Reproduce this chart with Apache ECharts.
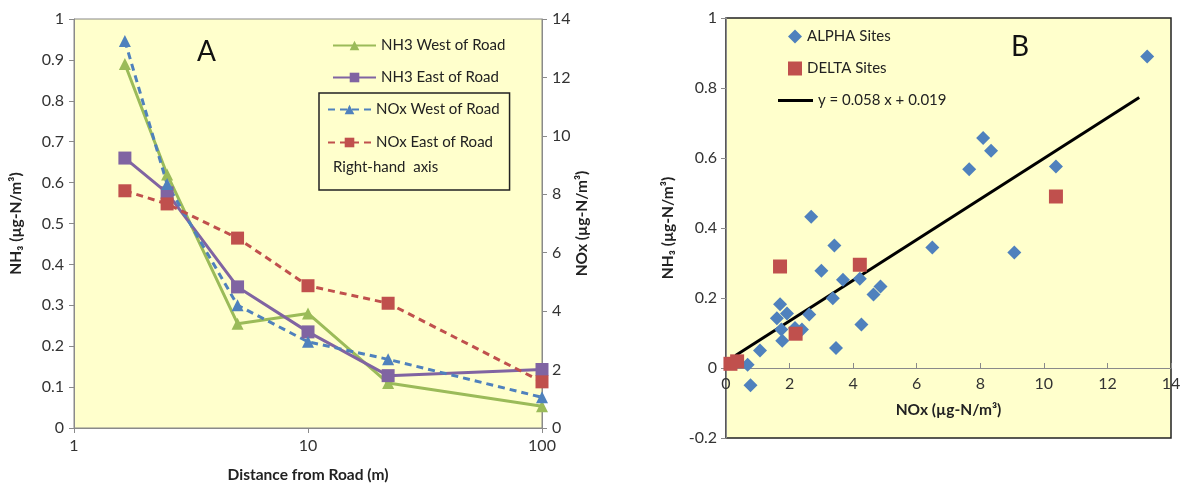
<!DOCTYPE html>
<html>
<head>
<meta charset="utf-8">
<script src="https://cdn.jsdelivr.net/npm/echarts@6/dist/echarts.min.js"></script>
<style>
  html, body { margin: 0; padding: 0; background: #fff; }
  #chart { width: 1186px; height: 484px; }
</style>
</head>
<body>
<div id="chart"></div>
<script>
// panel A: distance from road (m)
const distances = [1.65, 2.5, 5, 10, 22, 100];
const nh3West = [0.89, 0.62, 0.255, 0.28, 0.11, 0.053];
const nh3East = [0.66, 0.575, 0.345, 0.235, 0.128, 0.143];
const noxWest = [13.25, 8.35, 4.2, 2.95, 2.35, 1.05];
const noxEast = [8.12, 7.67, 6.5, 4.87, 4.27, 1.58];

// panel B: NOx vs NH3
const alphaNox = [0.68, 0.77, 1.07, 1.6, 1.7, 1.74, 1.77, 1.92, 2.17, 2.39, 2.62, 2.68, 3.0, 3.36, 3.41, 3.46, 3.68, 4.21, 4.26, 4.64, 4.86, 6.49, 7.65, 8.09, 8.34, 9.07, 10.38, 13.25];
const alphaNh3 = [0.009, -0.049, 0.05, 0.142, 0.182, 0.11, 0.078, 0.156, 0.114, 0.11, 0.153, 0.432, 0.278, 0.199, 0.35, 0.057, 0.252, 0.255, 0.124, 0.21, 0.233, 0.344, 0.568, 0.657, 0.621, 0.33, 0.576, 0.89];
const deltaNox = [0.14, 0.35, 1.7, 2.19, 4.21, 10.38];
const deltaNh3 = [0.012, 0.019, 0.29, 0.098, 0.295, 0.49];
const trendNox = [0.3, 13.0];
const trendNh3 = [0.036, 0.773];

const font = 'Lato, "Liberation Sans", sans-serif';
const pair = (xs, ys) => xs.map((x, i) => [x, ys[i]]);

const axisGrey = '#8a8a8a';
const labelStyle = { color: '#333', fontSize: 16, fontFamily: font };
const nameStyle = { color: '#222', fontSize: 15.5, fontWeight: 'bold', fontFamily: font };
const legendText = { fontSize: 15, color: '#222', fontFamily: font };

// panel B plot box: y runs from -0.2 (bottom) to 1 (top), x axis sits on y = 0
const gridB = { top: 18, height: 420 };
const zeroOffset = -gridB.height * 0.2 / 1.2;

const chart = echarts.init(document.getElementById('chart'));

chart.setOption({
  animation: false,
  textStyle: { fontFamily: font },
  grid: [
    { left: 74, top: 19, width: 468, height: 409, outerBoundsMode: 'none', show: true, backgroundColor: '#ffffcc', borderColor: '#888', borderWidth: 1 },
    { left: 726, top: gridB.top, width: 445, height: gridB.height, outerBoundsMode: 'none', show: true, backgroundColor: '#ffffcc', borderColor: '#222', borderWidth: 1.5 }
  ],
  xAxis: [
    {
      type: 'log', gridIndex: 0, min: 1, max: 100, logBase: 10,
      name: 'Distance from Road (m)', nameLocation: 'middle', nameGap: 39, nameTextStyle: nameStyle,
      axisLine: { lineStyle: { color: axisGrey } },
      axisTick: { show: true, length: 5, lineStyle: { color: axisGrey } },
      minorTick: { show: false },
      axisLabel: Object.assign({ margin: 10 }, labelStyle),
      splitLine: { show: false }
    },
    {
      type: 'value', gridIndex: 1, min: 0, max: 14, interval: 2, offset: zeroOffset,
      name: 'NOx (µg-N/m³)', nameLocation: 'middle', nameGap: 34, nameTextStyle: nameStyle,
      axisLine: { onZero: false, lineStyle: { color: axisGrey } },
      axisTick: { inside: true, length: 5, lineStyle: { color: axisGrey } },
      axisLabel: Object.assign({ margin: 8 }, labelStyle),
      splitLine: { show: false }
    }
  ],
  yAxis: [
    {
      type: 'value', gridIndex: 0, min: 0, max: 1, interval: 0.1,
      name: 'NH₃ (µg-N/m³)', nameLocation: 'middle', nameGap: 50, nameRotate: 90, nameTextStyle: nameStyle,
      axisLine: { show: true, lineStyle: { color: axisGrey } },
      axisTick: { show: true, length: 5, lineStyle: { color: axisGrey } },
      axisLabel: Object.assign({ margin: 10 }, labelStyle),
      splitLine: { show: false }
    },
    {
      type: 'value', gridIndex: 0, position: 'right', min: 0, max: 14, interval: 2,
      name: 'NOx (µg-N/m³)', nameLocation: 'middle', nameGap: 31, nameRotate: 90, nameTextStyle: nameStyle,
      axisLine: { show: true, lineStyle: { color: axisGrey } },
      axisTick: { show: true, length: 5, lineStyle: { color: axisGrey } },
      axisLabel: Object.assign({ margin: 10 }, labelStyle),
      splitLine: { show: false }
    },
    {
      type: 'value', gridIndex: 1, min: -0.2, max: 1, interval: 0.2,
      name: 'NH₃ (µg-N/m³)', nameLocation: 'middle', nameGap: 50, nameRotate: 90, nameTextStyle: nameStyle,
      axisLine: { show: true, lineStyle: { color: axisGrey } },
      axisTick: { show: true, length: 5, lineStyle: { color: axisGrey } },
      axisLabel: Object.assign({ margin: 9 }, labelStyle),
      splitLine: { show: false }
    }
  ],
  legend: [
    {
      orient: 'vertical', left: 327, top: 33, itemWidth: 43, itemHeight: 12, itemGap: 17,
      textStyle: legendText,
      data: ['NH3 West of Road', 'NH3 East of Road']
    },
    {
      orient: 'vertical', left: 319, top: 93, itemWidth: 43, itemHeight: 12, itemGap: 18,
      padding: [9, 10, 40, 8], borderColor: '#222', borderWidth: 1.5,
      textStyle: legendText,
      data: ['NOx West of Road', 'NOx East of Road']
    },
    {
      orient: 'vertical', left: 783, top: 24, itemWidth: 14, itemHeight: 14, itemGap: 17,
      textStyle: legendText,
      data: ['ALPHA Sites', 'DELTA Sites']
    },
    {
      orient: 'vertical', left: 773, top: 88, itemWidth: 35, itemHeight: 3, icon: 'rect',
      textStyle: legendText,
      data: ['y = 0.058 x + 0.019']
    }
  ],
  graphic: [
    { type: 'text', left: 197, top: 38, style: { text: 'A', fontSize: 28, fill: '#111', fontFamily: font } },
    { type: 'text', left: 1011, top: 33, style: { text: 'B', fontSize: 28, fill: '#111', fontFamily: font } },
    { type: 'text', left: 333, top: 160, style: { text: 'Right-hand  axis', fontSize: 15, fill: '#222', fontFamily: font } }
  ],
  series: [
    {
      name: 'NH3 West of Road', type: 'line', xAxisIndex: 0, yAxisIndex: 0,
      data: pair(distances, nh3West), symbol: 'triangle', symbolSize: 12,
      lineStyle: { color: '#9bbb59', width: 3 }, itemStyle: { color: '#9bbb59' }
    },
    {
      name: 'NH3 East of Road', type: 'line', xAxisIndex: 0, yAxisIndex: 0,
      data: pair(distances, nh3East), symbol: 'rect', symbolSize: 13,
      lineStyle: { color: '#8064a2', width: 3 }, itemStyle: { color: '#8064a2' }
    },
    {
      name: 'NOx West of Road', type: 'line', xAxisIndex: 0, yAxisIndex: 1,
      data: pair(distances, noxWest), symbol: 'triangle', symbolSize: 12,
      lineStyle: { color: '#4f81bd', width: 3, type: [7, 5] }, itemStyle: { color: '#4f81bd' }
    },
    {
      name: 'NOx East of Road', type: 'line', xAxisIndex: 0, yAxisIndex: 1,
      data: pair(distances, noxEast), symbol: 'rect', symbolSize: 13,
      lineStyle: { color: '#c0504d', width: 3, type: [7, 5] }, itemStyle: { color: '#c0504d' }
    },
    {
      name: 'ALPHA Sites', type: 'scatter', xAxisIndex: 1, yAxisIndex: 2,
      data: pair(alphaNox, alphaNh3), symbol: 'diamond', symbolSize: 14,
      itemStyle: { color: '#4f81bd', opacity: 1 }
    },
    {
      name: 'DELTA Sites', type: 'scatter', xAxisIndex: 1, yAxisIndex: 2,
      data: pair(deltaNox, deltaNh3), symbol: 'rect', symbolSize: 14,
      itemStyle: { color: '#c0504d', opacity: 1 }
    },
    {
      name: 'y = 0.058 x + 0.019', type: 'line', xAxisIndex: 1, yAxisIndex: 2,
      data: pair(trendNox, trendNh3), symbol: 'none', z: 1,
      lineStyle: { color: '#000', width: 3 }, itemStyle: { color: '#000' }
    }
  ]
});
</script>
</body>
</html>
